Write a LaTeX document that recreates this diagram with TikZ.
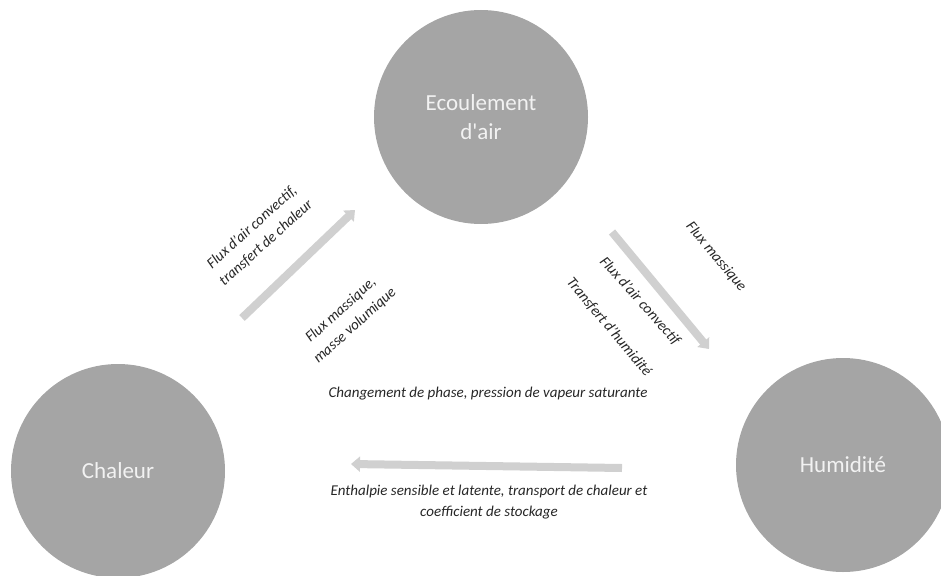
\documentclass[tikz,border=0pt]{standalone}
\usepackage{fontspec}
\setmainfont{Carlito}
\newfontfamily\circfont[Ligatures=TeXOff]{Carlito}
\usetikzlibrary{arrows.meta}
\definecolor{circfill}{HTML}{A5A5A5}
\definecolor{arrowgray}{HTML}{D0D0D0}
\definecolor{circtext}{HTML}{F2F2F2}
\definecolor{labeltext}{HTML}{262626}
\begin{document}
\begin{tikzpicture}[x=1pt,y=-1pt,
  circ/.style={circle,fill=circfill,minimum size=214pt,inner sep=0pt,text=circtext,font=\circfont\fontsize{23}{29}\selectfont,align=center},
  flow/.style={draw=arrowgray,line width=8pt,-{Triangle[width=15pt,length=9pt]}},
  lbl/.style={font=\fontsize{15}{21}\selectfont\itshape,text=labeltext,align=center,inner sep=0pt}]
\useasboundingbox (0,0) rectangle (941,575);
\node[circ] (air) at (481,117) {Ecoulement\\d'air};
\node[circ] (chal) at (118,471) {Chaleur};
\node[circ] (hum) at (843,465) {Humidité};
\coordinate (a1s) at (242,318);
\coordinate (a1e) at (355,210);
\coordinate (a2s) at (612,232);
\coordinate (a2e) at (709,349);
\coordinate (a3s) at (622,468);
\coordinate (a3e) at (351,464);
\draw[flow] (a1s) -- (a1e);
\draw[flow] (a2s) -- (a2e);
\draw[flow] (a3s) -- (a3e);
\node[lbl,rotate=42] (l1) at (259,235) {Flux d'air convectif,\\transfert de chaleur};
\node[lbl,rotate=42] (l2) at (348,318) {Flux massique,\\masse volumique};
\node[lbl,rotate=-50] (l3) at (716,257) {Flux massique};
\node[lbl,rotate=-48] (l4) at (640,301) {Flux d'air convectif};
\node[lbl,rotate=-50] (l5) at (609,327) {Transfert d'humidité};
\node[lbl] (l6) at (488,394) {Changement de phase, pression de vapeur saturante};
\node[lbl] (l7) at (489,502) {Enthalpie sensible et latente, transport de chaleur et\\coefficient de stockage};
\end{tikzpicture}
\end{document}
